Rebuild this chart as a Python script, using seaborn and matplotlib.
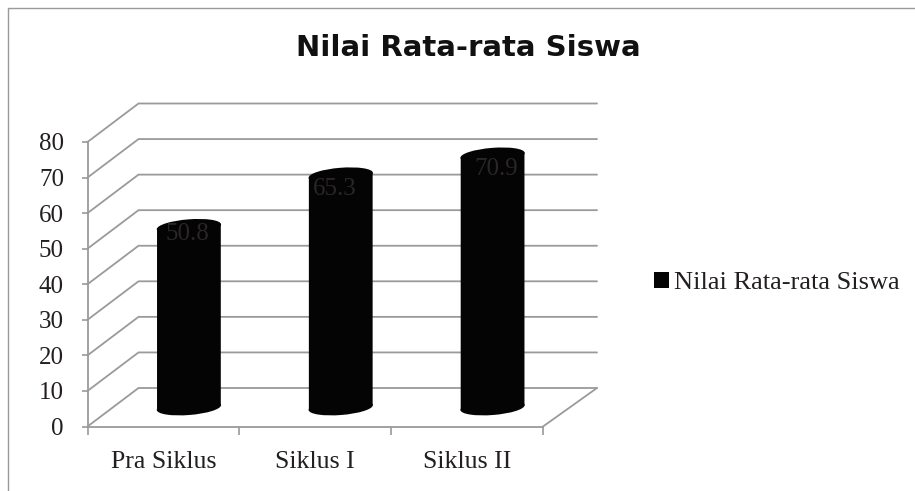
import matplotlib
matplotlib.use("Agg")
import matplotlib.pyplot as plt
import pandas as pd
import seaborn as sns
from matplotlib.lines import Line2D
from matplotlib.patches import Ellipse
from matplotlib.transforms import Affine2D

# Values
categories = ["Pra Siklus", "Siklus I", "Siklus II"]
values = [50.8, 65.3, 70.9]
series_name = "Nilai Rata-rata Siswa"
y_ticks = [0, 10, 20, 30, 40, 50, 60, 70, 80]

GREY = "#9a9a9a"
INK = "#231f20"
BLACK = "#040404"
SERIF = "Liberation Serif"

sns.set_theme(style="white")
plt.rcParams["font.family"] = SERIF

W, H = 915, 491
fig = plt.figure(figsize=(W / 100, H / 100), dpi=100, facecolor="white")
ax = fig.add_axes([87.5 / W, (H - 426.5) / H, (543 - 87.5) / W, (426.5 - 142) / H])
ax.patch.set_alpha(0)

df = pd.DataFrame({"category": categories, "value": values})
sns.barplot(data=df, x="category", y="value", color=BLACK, saturation=1, width=0.42,
            label=series_name, ax=ax, zorder=3)
ax.set_xlim(-0.5, 2.5)
ax.set_ylim(0, 80)
ax.set_xlabel("")
ax.set_ylabel("")

# depth of the fake 3D box, in data units
depth_x = 51 / 151.8
depth_y = 38.5 / 3.556
right_x = 2.5 + 54 / 151.8

# back wall and side wall gridlines
for v in y_ticks:
    if v == 0:
        ax.plot([-0.5, -0.5 + depth_x], [0, depth_y], color=GREY, lw=1.3, clip_on=False, zorder=1)
        ax.plot([-0.5 + depth_x, right_x], [depth_y, depth_y], color=GREY, lw=1.3, clip_on=False, zorder=1)
        ax.plot([2.5, right_x], [0, depth_y], color=GREY, lw=1.3, clip_on=False, zorder=1)
    else:
        ax.plot([-0.5, -0.5 + depth_x, right_x], [v, v + depth_y, v + depth_y],
                color=GREY, lw=1.3, clip_on=False, zorder=1)

# cylinders: bars pushed to the middle of the box and sheared a bit, ellipses on both ends
fig.canvas.draw()
shift_x, shift_y = 25.5, 19
tilt = 4.5
for i, bar in enumerate(ax.containers[0]):
    cx, top = ax.transData.transform((i, values[i]))
    _, base = ax.transData.transform((i, 0))
    bar.set_transform(ax.transData + Affine2D().translate(-cx, 0).skew_deg(0, tilt).translate(cx + shift_x, shift_y))
    bar.set_clip_on(False)
    bar.set_linewidth(0)
    for y in (base, top):
        el = Ellipse((0, 0), 64.5, 15, angle=tilt, facecolor=BLACK, edgecolor="none", zorder=3,
                     transform=Affine2D().translate(cx + shift_x, y + shift_y))
        el.set_clip_on(False)
        ax.add_artist(el)

# value labels sit inside the bars, dark on black
label_offsets = [(-1.5, -7), (-6, -14), (3.5, -14)]
for i, v in enumerate(values):
    ax.annotate(f"{v}", xy=(i, v), xytext=(shift_x + label_offsets[i][0], shift_y + label_offsets[i][1]),
                textcoords="offset pixels", ha="center", va="center", fontsize=18,
                color="#2a2627", zorder=5, annotation_clip=False)

# axes
sns.despine(ax=ax, top=True, right=True)
for side in ("left", "bottom"):
    ax.spines[side].set_color(GREY)
    ax.spines[side].set_linewidth(1.3)
ax.set_yticks(y_ticks)
ax.tick_params(axis="y", left=True, length=4.5, width=1.2, color=GREY, pad=12.5, labelsize=18, labelcolor=INK)
ax.set_xticks([0, 1, 2], categories)
ax.set_xticks([-0.5, 0.5, 1.5, 2.5], minor=True)
ax.tick_params(axis="x", which="major", bottom=False, pad=11.5, labelsize=18.6, labelcolor=INK)
ax.tick_params(axis="x", which="minor", bottom=True, length=5.5, width=1.2, color=GREY)

fig.text(468 / W, (H - 56.5) / H, series_name, ha="center", va="baseline", fontsize=21,
         fontweight="bold", family="DejaVu Sans", color="#111111")

leg = ax.legend(loc="center left", bbox_to_anchor=(654 / W, (H - 283) / H), bbox_transform=fig.transFigure,
                frameon=False, fontsize=19, handlelength=0.55, handleheight=0.55, handletextpad=0.2,
                labelcolor=INK, borderpad=0, borderaxespad=0)

# outer chart frame, only top and left are in the crop
fig.add_artist(Line2D([8 / W, 8 / W], [0, (H - 7.5) / H], color=GREY, lw=1.0))
fig.add_artist(Line2D([8 / W, 1], [(H - 7.5) / H, (H - 7.5) / H], color=GREY, lw=1.0))

fig.savefig("out.png", dpi=100)
